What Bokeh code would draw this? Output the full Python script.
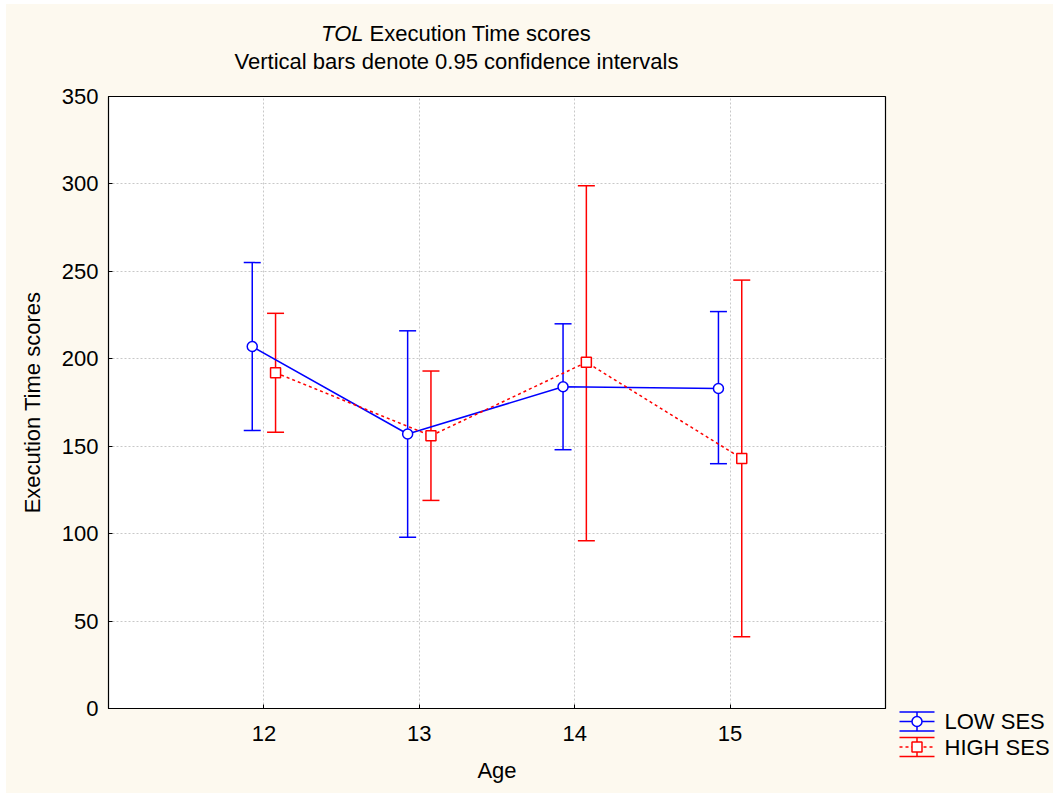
from bokeh.plotting import figure
from bokeh.layouts import column, row
from bokeh.models import ColumnDataSource, Range1d, FixedTicker, Whisker, TeeHead
from bokeh.core.properties import value
from bokeh.transform import dodge
from bokeh.embed import file_html
from bokeh.resources import INLINE

# Mean execution time with 95% confidence limits, by age and SES group
ages = [12, 13, 14, 15]
low_mean = [207, 157, 184, 183]
low_lower = [159, 98, 148, 140]
low_upper = [255, 216, 220, 227]
high_mean = [192, 156, 198, 143]
high_lower = [158, 119, 96, 41]
high_upper = [226, 193, 299, 245]

group_names = ["LOW SES", "HIGH SES"]
x_ticks = ages
y_ticks = [0, 50, 100, 150, 200, 250, 300, 350]
title_test = "TOL"
title_rest = "Execution Time scores"
subtitle = "Vertical bars denote 0.95 confidence intervals"

FONT = "Liberation Sans"
FS = "22px"
BLUE = "#0000FF"
RED = "#FF0000"
CREAM = "#FDF9EF"
OFF = 0.075  # horizontal dodge of the two groups


def blank(width, height, x0, x1, y0, y1):
    """Axis-free panel whose frame fills the canvas, addressed in page pixels."""
    f = figure(width=width, height=height, x_range=Range1d(x0, x1), y_range=Range1d(y0, y1),
               x_axis_type=None, y_axis_type=None, output_backend="svg",
               toolbar_location=None, min_border=0, title=None)
    f.outline_line_color = None
    f.background_fill_color = CREAM
    f.border_fill_color = CREAM
    f.grid.visible = False
    f.frame_align = False
    return f


txt = dict(text_font=value(FONT), text_font_size=FS, text_color="black",
           text_baseline="middle")

# ---- title strip ----
top = blank(1047, 70, 6, 1053, 74, 4)
top.text(x=[363], y=[33], text=[title_test], text_align="right",
         text_font_style="italic", **txt)
top.text(x=[369], y=[33], text=[title_rest], text_align="left", **txt)
top.text(x=[456], y=[61], text=[subtitle], text_align="center", **txt)

# ---- main chart ----
p = figure(width=881, height=719,
           x_range=Range1d(11, 16), y_range=Range1d(0, 350),
           output_backend="svg", toolbar_location=None,
           min_border_left=102, min_border_right=2,
           min_border_top=22, min_border_bottom=85)
p.frame_align = False
p.border_fill_color = CREAM
p.background_fill_color = "white"
p.outline_line_color = "black"
p.outline_line_width = 1.2

for ax in (p.xaxis, p.yaxis):
    ax.axis_line_color = "black"
    ax.major_tick_in = 4
    ax.major_tick_out = 0
    ax.minor_tick_line_color = None
    ax.major_tick_line_color = "black"
    ax.major_label_text_font = FONT
    ax.major_label_text_font_size = FS
    ax.major_label_text_color = "black"
    ax.axis_label_text_font = FONT
    ax.axis_label_text_font_size = FS
    ax.axis_label_text_font_style = "normal"
    ax.axis_label_text_color = "black"

p.xaxis.ticker = FixedTicker(ticks=x_ticks)
p.yaxis.ticker = FixedTicker(ticks=y_ticks)
p.xaxis.axis_label = "Age"
p.yaxis.axis_label = "Execution Time scores"
p.xaxis.major_label_standoff = 17
p.xaxis.axis_label_standoff = 14
p.yaxis.major_label_standoff = 10
p.yaxis.axis_label_standoff = 14

p.grid.grid_line_color = "#C8C8C8"
p.grid.grid_line_dash = "2 2"
p.grid.grid_line_width = 1

low = ColumnDataSource(dict(age=ages, mean=low_mean, lower=low_lower, upper=low_upper))
high = ColumnDataSource(dict(age=ages, mean=high_mean, lower=high_lower, upper=high_upper))

styles = [
    (low, -OFF, BLUE, "solid", "circle"),
    (high, OFF, RED, "3 3", "square"),
]
for src, off, color, dash, marker in styles:
    w = Whisker(base=dodge("age", off), upper="upper", lower="lower", source=src,
                line_color=color, line_width=1.5,
                upper_head=TeeHead(size=17, line_color=color, line_width=1.5),
                lower_head=TeeHead(size=17, line_color=color, line_width=1.5))
    p.add_layout(w)
    p.line(x=dodge("age", off), y="mean", source=src, line_color=color,
           line_width=1.5, line_dash=dash)
    p.scatter(x=dodge("age", off), y="mean", source=src, marker=marker, size=10,
              fill_color="white", line_color=color, line_width=1.5)

# ---- legend strip: error-bar keys beside the group names ----
leg = blank(166, 719, 887, 1053, 793, 74)
key_rows = [(721, BLUE, "solid", "circle"), (746.5, RED, "3 3", "square")]
for name, (yc, color, dash, marker) in zip(group_names, key_rows):
    leg.segment(x0=[899, 899, 916.5], y0=[yc - 9.5, yc + 9.5, yc - 9.5],
                x1=[934, 934, 916.5], y1=[yc - 9.5, yc + 9.5, yc + 9.5],
                line_color=color, line_width=1.5)
    leg.segment(x0=[899], y0=[yc], x1=[934], y1=[yc], line_color=color,
                line_width=1.5, line_dash=dash)
    leg.scatter(x=[916.5], y=[yc], marker=marker, size=10, fill_color="white",
                line_color=color, line_width=1.5)
    leg.text(x=[944], y=[yc], text=[name], text_align="left", **txt)

layout = column(top, row(p, leg))
layout.margin = (4, 0, 0, 6)
layout.styles = {"background-color": CREAM}
open("out.html", "w").write(file_html(layout, INLINE))
